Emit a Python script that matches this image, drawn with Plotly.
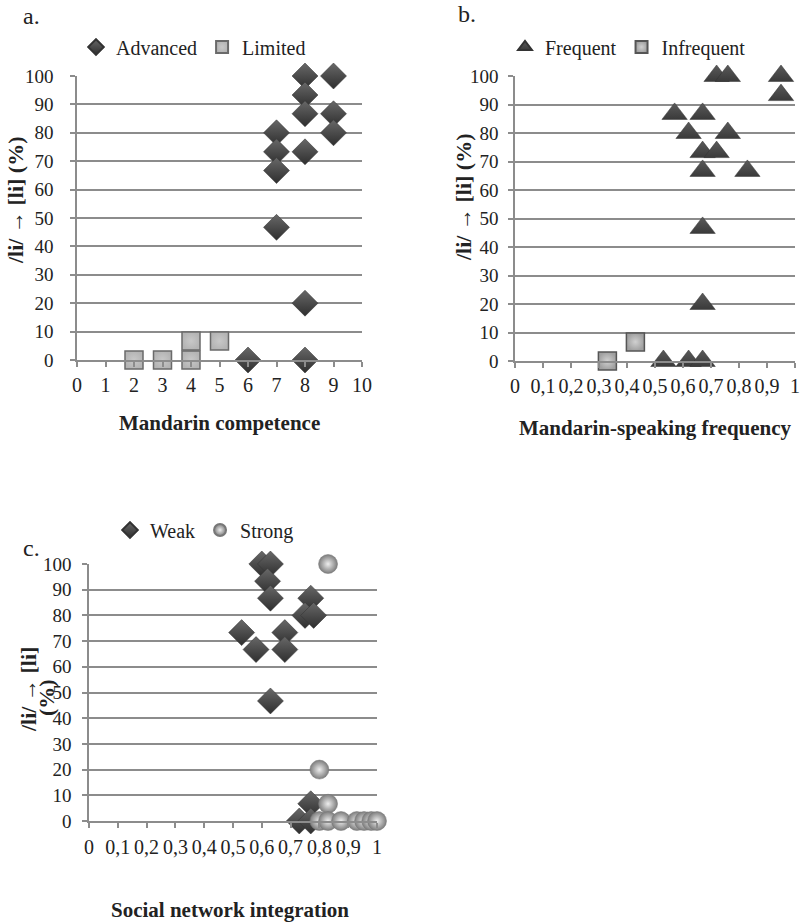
import plotly.graph_objects as go

# ---------------- data ----------------
# Panel a: Mandarin competence
adv_x = [8, 9, 8, 8, 9, 9, 7, 7, 8, 7, 7, 8, 6, 8]
adv_y = [100, 100, 93.3, 86.7, 86.7, 80, 80, 73.3, 73.3, 66.7, 46.7, 20, 0, 0]
lim_x = [2, 3, 4, 4, 5]
lim_y = [0, 0, 0, 6.7, 6.7]

# Panel b: Mandarin-speaking frequency
freq_x = [0.72, 0.76, 0.95, 0.95, 0.57, 0.67, 0.62, 0.76, 0.67, 0.72, 0.67, 0.83, 0.67, 0.67, 0.53, 0.62, 0.67]
freq_y = [100, 100, 100, 93.3, 86.7, 86.7, 80, 80, 73.3, 73.3, 66.7, 66.7, 46.7, 20, 0, 0, 0]
infreq_x = [0.33, 0.43]
infreq_y = [0, 6.7]

# Panel c: Social network integration
weak_x = [0.60, 0.63, 0.62, 0.63, 0.77, 0.75, 0.78, 0.53, 0.68, 0.58, 0.68, 0.63, 0.77, 0.73, 0.77]
weak_y = [100, 100, 93.3, 86.7, 86.7, 80, 80, 73.3, 73.3, 66.7, 66.7, 46.7, 6.7, 0, 0]
strong_x = [0.83, 0.80, 0.83, 0.80, 0.83, 0.875, 0.93, 0.955, 0.98, 1.0]
strong_y = [100, 20, 6.7, 0, 0, 0, 0, 0, 0, 0]

y_ticks = [0, 10, 20, 30, 40, 50, 60, 70, 80, 90, 100]
a_xticks = [0, 1, 2, 3, 4, 5, 6, 7, 8, 9, 10]
frac_ticks = [0, 0.1, 0.2, 0.3, 0.4, 0.5, 0.6, 0.7, 0.8, 0.9, 1.0]
frac_labels = ["0", "0,1", "0,2", "0,3", "0,4", "0,5", "0,6", "0,7", "0,8", "0,9", "1"]

# ---------------- styling ----------------
W, H = 800, 924
FONT = "Liberation Serif"
GRID = "#8c8c8c"
TXT = "#222222"


def px(x):
    return x / W


def py(y):
    return 1 - y / H


diamond = dict(symbol="diamond", size=20, color="#686868",
               gradient=dict(type="vertical", color="#2e2e2e"),
               line=dict(color="#333333", width=0.5))
square_light = dict(symbol="square", size=18, color="#b4b4b4",
                    gradient=dict(type="radial", color="#c8c8c8"),
                    line=dict(color="#6a6a6a", width=1.5))
triangle = dict(symbol="triangle-up", size=22, color="#5a5a5a",
                gradient=dict(type="vertical", color="#3a3a3a"),
                line=dict(color="#333333", width=0.5))
square_inf = dict(symbol="square", size=18, color="#a0a0a0",
                  gradient=dict(type="radial", color="#d0d0d0"),
                  line=dict(color="#555555", width=1.5))
sphere = dict(symbol="circle", size=19, color="#7c7c7c",
              gradient=dict(type="radial", color="#eeeeee"),
              line=dict(color="#777777", width=0.5))

fig = go.Figure()

fig.add_trace(go.Scatter(x=adv_x, y=adv_y, mode="markers", name="Advanced", marker=diamond,
                         xaxis="x", yaxis="y", legend="legend", cliponaxis=False))
fig.add_trace(go.Scatter(x=lim_x, y=lim_y, mode="markers", name="Limited", marker=square_light,
                         xaxis="x", yaxis="y", legend="legend", cliponaxis=False))
fig.add_trace(go.Scatter(x=freq_x, y=freq_y, mode="markers", name="Frequent", marker=triangle,
                         xaxis="x2", yaxis="y2", legend="legend2", cliponaxis=False))
fig.add_trace(go.Scatter(x=infreq_x, y=infreq_y, mode="markers", name="Infrequent", marker=square_inf,
                         xaxis="x2", yaxis="y2", legend="legend2", cliponaxis=False))
fig.add_trace(go.Scatter(x=weak_x, y=weak_y, mode="markers", name="Weak", marker=diamond,
                         xaxis="x3", yaxis="y3", legend="legend3", cliponaxis=False))
fig.add_trace(go.Scatter(x=strong_x, y=strong_y, mode="markers", name="Strong", marker=sphere,
                         xaxis="x3", yaxis="y3", legend="legend3", cliponaxis=False))

ytickfont = dict(family=FONT, size=19, color=TXT)
xtickfont = dict(family=FONT, size=20, color=TXT)


def yax(domain, anchor, standoff):
    return dict(domain=domain, anchor=anchor, range=[0, 100], tickvals=y_ticks,
                showgrid=True, gridcolor=GRID, gridwidth=1.5, zeroline=False,
                showline=True, linecolor=GRID, linewidth=1.5, automargin=False,
                ticks="outside", ticklen=5, tickwidth=1.5, tickcolor=GRID,
                tickfont=ytickfont, ticklabelstandoff=standoff, fixedrange=True)


def xax(domain, anchor, rng, tv, tt, standoff):
    return dict(domain=domain, anchor=anchor, range=rng, tickvals=tv, ticktext=tt,
                showgrid=False, zeroline=False, showline=True, linecolor=GRID, linewidth=1.5,
                ticks="outside", ticklen=5, tickwidth=1.5, tickcolor=GRID, automargin=False,
                tickfont=xtickfont, ticklabelstandoff=standoff, fixedrange=True)


legfont = dict(family=FONT, size=20, color=TXT)
legcommon = dict(orientation="h", xanchor="left", yanchor="middle", font=legfont,
                 itemsizing="constant", bgcolor="rgba(0,0,0,0)", itemwidth=30)

fig.update_layout(
    width=W, height=H, margin=dict(l=0, r=0, t=0, b=0, autoexpand=False),
    paper_bgcolor="white", plot_bgcolor="white",
    font=dict(family=FONT, color=TXT),
    xaxis=xax([px(77), px(362)], "y", [0, 10], a_xticks, [str(v) for v in a_xticks], 1),
    yaxis=yax([py(360), py(76)], "x", 13),
    xaxis2=xax([px(515), px(795)], "y2", [0, 1], frac_ticks, frac_labels, 1),
    yaxis2=yax([py(361), py(76)], "x2", 6),
    xaxis3=xax([px(89), px(377)], "y3", [0, 1], frac_ticks, frac_labels, 2),
    yaxis3=yax([py(821), py(564)], "x3", 7),
    legend=dict(x=px(76), y=py(47), **legcommon),
    legend2=dict(x=px(505), y=py(47), **legcommon),
    legend3=dict(x=px(110), y=py(530), **legcommon),
)

ann = []


def text(x, y, t, size=21, bold=False, angle=0):
    ann.append(dict(x=px(x), y=py(y), xref="paper", yref="paper", text=(f"<b>{t}</b>" if bold else t),
                    showarrow=False, textangle=angle, xanchor="center", yanchor="middle",
                    font=dict(family=FONT, size=size, color=TXT)))


text(31, 16, "a.", size=24)
text(467, 14, "b.", size=24)
text(31, 548, "c.", size=24)
text(219, 423, "Mandarin competence", bold=True)
text(655, 428, "Mandarin-speaking frequency", bold=True)
text(230, 910, "Social network integration", bold=True)
text(16, 201, "/li/ → [li] (%)", size=22, bold=True, angle=-90)
text(463, 198, "/li/ → [li] (%)", size=22, bold=True, angle=-90)
text(28, 690, "/li/ → [li]", size=22, bold=True, angle=-90)
text(46, 698, "(%)", size=22, bold=True, angle=-90)
fig.update_layout(annotations=ann)

# remove the page's default body margin so the 800x924 figure fills the window
fig.write_html("out.html", config={"displayModeBar": False},
               post_script="document.body.style.margin='0px';")
